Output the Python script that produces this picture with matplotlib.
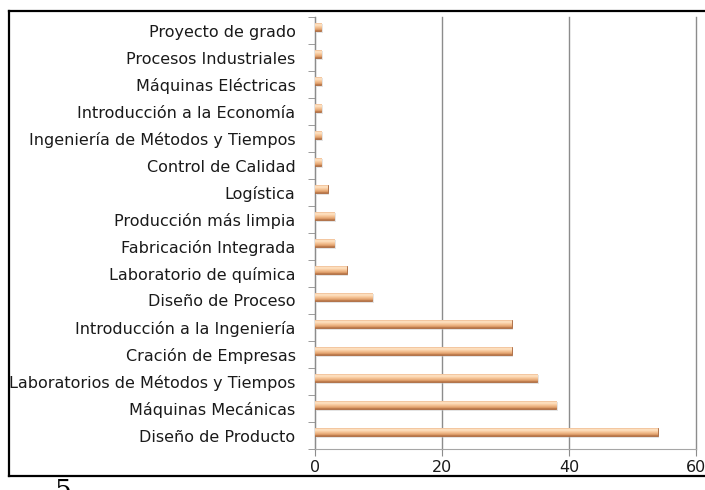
import numpy as np
import matplotlib
matplotlib.use("Agg")
import matplotlib.pyplot as plt
from matplotlib.colors import LinearSegmentedColormap
from matplotlib.lines import Line2D

# Courses ordered from bottom to top of the chart
courses = [
    "Diseño de Producto",
    "Máquinas Mecánicas",
    "Laboratorios de Métodos y Tiempos",
    "Cración de Empresas",
    "Introducción a la Ingeniería",
    "Diseño de Proceso",
    "Laboratorio de química",
    "Fabricación Integrada",
    "Producción más limpia",
    "Logística",
    "Control de Calidad",
    "Ingeniería de Métodos y Tiempos",
    "Introducción a la Economía",
    "Máquinas Eléctricas",
    "Procesos Industriales",
    "Proyecto de grado",
]
counts = [54, 38, 35, 31, 31, 9, 5, 3, 3, 2, 1, 1, 1, 1, 1, 1]
x_ticks = [0, 20, 40, 60]

plt.rcParams["font.family"] = ["DejaVu Sans"]

fig = plt.figure(figsize=(7.05, 4.9), dpi=100)
ax = fig.add_axes([315 / 705, 1 - 449 / 490, (696 - 315) / 705, (449 - 17) / 490])

pos = np.arange(len(courses))
lift = 0.14
height = 0.31

# soft drop shadow under each bar
ax.barh(pos + lift - 0.07, counts, height=height, left=0.25, color="#c4c4c4",
        alpha=0.45, linewidth=0, zorder=2)
bars = ax.barh(pos + lift, counts, height=height, color="#efb282",
               edgecolor="#a8653a", linewidth=0.6, zorder=3)

# cylinder-like vertical shading inside each bar
shade = LinearSegmentedColormap.from_list(
    "copper_tube",
    [(0.0, "#b06c40"), (0.16, "#e0a06c"), (0.42, "#f6c496"),
     (0.70, "#ffe6c8"), (0.86, "#f6c8a0"), (1.0, "#c07c4e")])
grad = np.linspace(0, 1, 64).reshape(-1, 1)
for b in bars:
    x0, y0 = b.get_x(), b.get_y()
    w, h = b.get_width(), b.get_height()
    im = ax.imshow(grad, cmap=shade, aspect="auto", origin="lower",
                   extent=[x0, x0 + w, y0, y0 + h], zorder=3.5,
                   interpolation="bilinear")
    im.set_clip_path(b)

ax.set_xlim(0, 60)
ax.set_ylim(-0.5, len(courses) - 0.5)
ax.set_xticks(x_ticks)
ax.set_xticklabels([str(v) for v in x_ticks])
ax.set_yticks(pos)
ax.set_yticklabels(courses)
ax.set_yticks(np.arange(-0.5, len(courses)), minor=True)

ax.grid(axis="x", color="#8c8c8c", linewidth=1.0, zorder=0)
for gl in ax.get_xgridlines():
    gl.set_clip_on(False)
ax.set_axisbelow(True)
for side in ("top", "right"):
    ax.spines[side].set_visible(False)
ax.spines["left"].set_color("#8c8c8c")
ax.spines["bottom"].set_color("#a6a6a6")

ax.tick_params(axis="y", which="major", length=0, pad=14, labelsize=11.5,
               labelcolor="#1a1a1a")
ax.tick_params(axis="y", which="minor", length=5, color="#8c8c8c", direction="out")
ax.tick_params(axis="x", which="major", length=5, color="#8c8c8c", direction="out",
               labelsize=11.5, labelcolor="#1a1a1a", pad=3)

# page frame around the chart
lw = 1.6
fig.add_artist(Line2D([9 / 705, 1.0], [1 - 11 / 490] * 2, color="black", lw=lw,
                      transform=fig.transFigure))
fig.add_artist(Line2D([9 / 705] * 2, [1 - 11 / 490, 1 - 476 / 490], color="black",
                      lw=lw, transform=fig.transFigure))
fig.add_artist(Line2D([9 / 705, 1.0], [1 - 476 / 490] * 2, color="black", lw=lw,
                      transform=fig.transFigure))

fig.text(55 / 705, 1 - 478 / 490, "5", family="DejaVu Serif", fontsize=19,
         va="top", ha="left", color="black")

fig.savefig("out.png", dpi=100)
